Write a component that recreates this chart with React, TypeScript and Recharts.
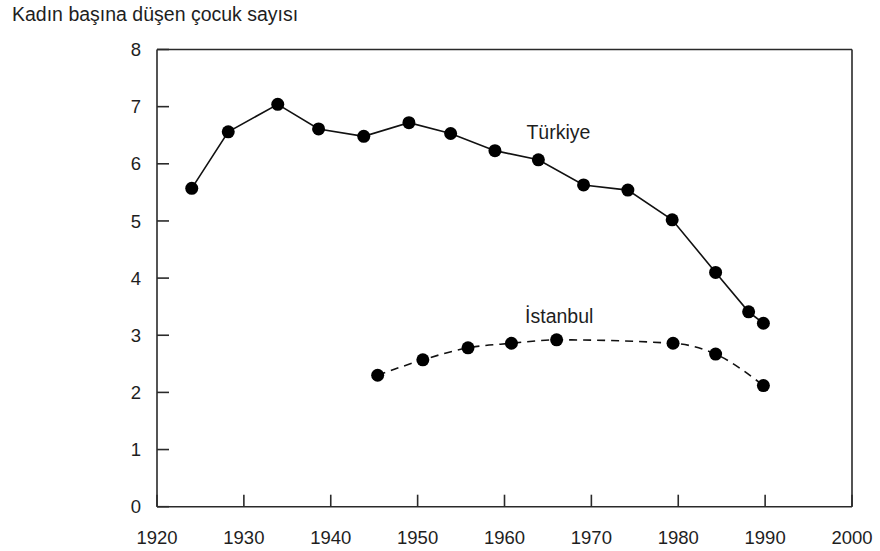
import React from 'react';
import { LineChart, Line, XAxis, YAxis, ReferenceLine, ReferenceDot } from 'recharts';

// Toplam doğurganlık hızı (kadın başına çocuk)
const turkiyeYears = [1924, 1928.2, 1933.9, 1938.6, 1943.8, 1949.0, 1953.8, 1958.9, 1963.9, 1969.1, 1974.2, 1979.3, 1984.3, 1988.1, 1989.8];
const turkiyeValues = [5.57, 6.56, 7.04, 6.61, 6.48, 6.72, 6.53, 6.23, 6.07, 5.63, 5.54, 5.02, 4.1, 3.41, 3.21];

const istanbulYears = [1945.4, 1950.6, 1955.8, 1960.8, 1966.0, 1979.4, 1984.3, 1989.8];
const istanbulValues = [2.3, 2.57, 2.78, 2.86, 2.92, 2.86, 2.67, 2.12];

const xTicks = [1920, 1930, 1940, 1950, 1960, 1970, 1980, 1990, 2000];
const yTicks = [0, 1, 2, 3, 4, 5, 6, 7, 8];

const title = 'Kadın başına düşen çocuk sayısı';

const turkiyeData = turkiyeYears.map((year, i) => ({ year, value: turkiyeValues[i] }));
const istanbulData = istanbulYears.map((year, i) => ({ year, value: istanbulValues[i] }));

const FONT = '"Liberation Sans", Arial, Helvetica, sans-serif';
const INK = '#2a2a2a';
const tickStyle = { fontSize: 18.5, fill: '#1e1e1e', fontFamily: FONT };
const labelStyle = { fontSize: 19.5, fill: '#1e1e1e', fontFamily: FONT };

export default function App() {
  return (
    <div style={{ position: 'absolute', left: 0, top: 0, width: 880, height: 551, background: '#fff', fontFamily: FONT }}>
      <div style={{ position: 'absolute', left: 12, top: 3, fontSize: 19.5, color: '#1e1e1e', whiteSpace: 'nowrap' }}>
        {title}
      </div>
      <LineChart width={880} height={551} margin={{ top: 49.5, right: 0, bottom: 14.3, left: 97 }}>
        <XAxis
          dataKey="year"
          type="number"
          domain={[1920, 2000]}
          ticks={xTicks}
          allowDuplicatedCategory={false}
          height={30}
          tickSize={-12}
          tickMargin={36}
          tick={tickStyle}
          stroke={INK}
          strokeWidth={1.6}
          interval={0}
        />
        <YAxis
          yAxisId="left"
          domain={[0, 8]}
          ticks={yTicks}
          width={60}
          tickSize={-12}
          tickMargin={28}
          tick={tickStyle}
          stroke={INK}
          strokeWidth={1.6}
          interval={0}
        />
        <YAxis
          yAxisId="right"
          orientation="right"
          domain={[0, 8]}
          ticks={yTicks}
          width={28}
          tickSize={-12}
          tickMargin={29}
          tick={tickStyle}
          stroke={INK}
          strokeWidth={1.6}
          interval={0}
        />
        <ReferenceLine yAxisId="left" y={8} stroke={INK} strokeWidth={1.6} />
        <Line
          yAxisId="left"
          data={turkiyeData}
          dataKey="value"
          type="linear"
          stroke="#111"
          strokeWidth={1.6}
          dot={{ r: 6.5, fill: '#000', stroke: '#000', strokeWidth: 0 }}
          isAnimationActive={false}
        />
        <Line
          yAxisId="left"
          data={istanbulData}
          dataKey="value"
          type="monotone"
          stroke="#111"
          strokeWidth={1.6}
          strokeDasharray="8 6"
          dot={{ r: 6.5, fill: '#000', stroke: '#000', strokeWidth: 0 }}
          isAnimationActive={false}
        />
        <ReferenceDot
          yAxisId="left"
          x={1966.2}
          y={6.56}
          r={0}
          stroke="none"
          label={{ value: 'Türkiye', position: 'center', ...labelStyle }}
        />
        <ReferenceDot
          yAxisId="left"
          x={1966.3}
          y={3.34}
          r={0}
          stroke="none"
          label={{ value: 'İstanbul', position: 'center', ...labelStyle }}
        />
      </LineChart>
    </div>
  );
}
